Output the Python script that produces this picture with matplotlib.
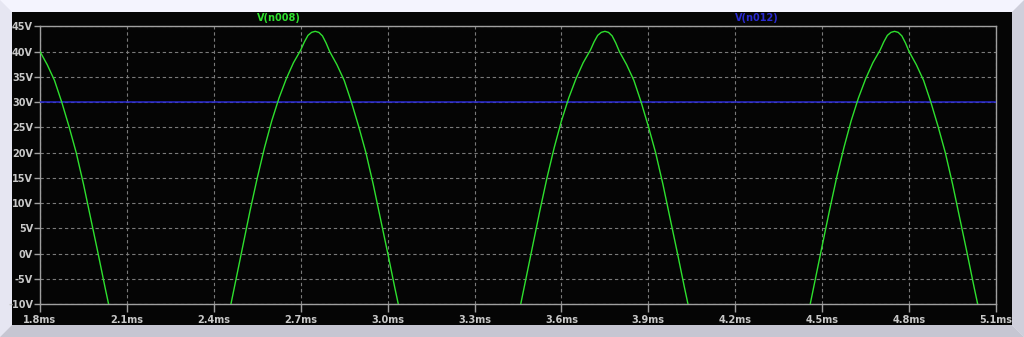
import matplotlib
matplotlib.use("Agg")
import matplotlib.pyplot as plt
from matplotlib.patches import Polygon, Rectangle

# trace V(n008), time in ms, volts
t_n008 = [1.800, 1.825, 1.850, 1.875, 1.900, 1.925, 1.950, 1.975, 2.000, 2.025, 2.050,
          2.100, 2.150, 2.200, 2.250, 2.300, 2.350, 2.400,
          2.450, 2.475, 2.500, 2.525, 2.550, 2.575, 2.600, 2.625, 2.650, 2.675, 2.700, 2.7125,
          2.725, 2.7375, 2.750, 2.7625, 2.775, 2.7875, 2.800, 2.825, 2.850, 2.875, 2.900,
          2.925, 2.950, 2.975, 3.000, 3.025,
          3.050, 3.100, 3.150, 3.200, 3.250, 3.300, 3.350, 3.400,
          3.450, 3.475, 3.500, 3.525, 3.550, 3.575, 3.600, 3.625, 3.650, 3.675, 3.700, 3.7125,
          3.725, 3.7375, 3.750, 3.7625, 3.775, 3.7875, 3.800, 3.825, 3.850, 3.875, 3.900,
          3.925, 3.950, 3.975, 4.000, 4.025,
          4.050, 4.100, 4.150, 4.200, 4.250, 4.300, 4.350, 4.400,
          4.450, 4.475, 4.500, 4.525, 4.550, 4.575, 4.600, 4.625, 4.650, 4.675, 4.700, 4.7125,
          4.725, 4.7375, 4.750, 4.7625, 4.775, 4.7875, 4.800, 4.825, 4.850, 4.875, 4.900,
          4.925, 4.950, 4.975, 5.000, 5.025,
          5.050, 5.100]
v_n008 = [40.0, 37.4, 34.3, 30.0, 25.2, 20.0, 13.8, 7.0, 0.2, -6.8, -13.5,
          -26.0, -36.0, -42.0, -44.0, -42.0, -36.0, -26.0,
          -12.5, -5.5, 1.5, 8.5, 15.0, 21.0, 26.3, 30.8, 34.6, 37.8, 40.3, 41.9,
          43.2, 43.8, 44.0, 43.8, 43.1, 41.7, 40.0, 37.4, 34.3, 30.0, 25.2,
          20.0, 13.8, 7.0, 0.2, -6.8,
          -13.5, -26.0, -36.0, -42.0, -44.0, -42.0, -36.0, -26.0,
          -12.6, -5.6, 1.4, 8.4, 15.0, 21.0, 26.3, 30.8, 34.6, 37.8, 40.3, 41.9,
          43.2, 43.8, 44.0, 43.8, 43.1, 41.7, 40.0, 37.4, 34.3, 30.0, 25.2,
          20.0, 13.8, 7.0, 0.2, -6.8,
          -13.5, -26.0, -36.0, -42.0, -44.0, -42.0, -36.0, -26.0,
          -12.4, -5.4, 1.6, 8.5, 15.1, 21.0, 26.3, 30.8, 34.6, 37.8, 40.3, 41.9,
          43.2, 43.8, 44.0, 43.8, 43.1, 41.7, 40.0, 37.4, 34.3, 30.0, 25.2,
          20.0, 13.8, 7.0, 0.2, -6.8,
          -13.5, -26.0]

# trace V(n012): flat 30 V
t_n012 = [1.8, 5.1]
v_n012 = [30.0, 30.0]

x_ticks = [1.8, 2.1, 2.4, 2.7, 3.0, 3.3, 3.6, 3.9, 4.2, 4.5, 4.8, 5.1]
y_ticks = [-10, -5, 0, 5, 10, 15, 20, 25, 30, 35, 40, 45]

W, H = 1024, 337
GREEN = "#2ee02e"
BLUE = "#2a2ad2"
GRAY = "#a0a0a0"


def px(x, y):
    # pixel coords (top-left origin) -> figure fraction
    return (x / W, 1 - y / H)


fig = plt.figure(figsize=(W / 100, H / 100), dpi=100)
fig.patch.set_facecolor("#f4f4fe")

# bevelled frame round the black panel
bevel = [
    ([(0, 0), (1024, 0), (1012, 12), (12, 12)], "#f4f4fe"),
    ([(0, 0), (12, 12), (12, 325), (0, 337)], "#e6e6f2"),
    ([(1024, 0), (1024, 337), (1012, 325), (1012, 12)], "#cfcfdb"),
    ([(0, 337), (12, 325), (1012, 325), (1024, 337)], "#c6c6d2"),
]
for pts, col in bevel:
    fig.add_artist(Polygon([px(*p) for p in pts], closed=True, transform=fig.transFigure,
                           facecolor=col, edgecolor="none", zorder=0))
x0, y0 = px(12, 325)
x1, y1 = px(1012, 12)
fig.add_artist(Rectangle((x0, y0), x1 - x0, y1 - y0, transform=fig.transFigure,
                         facecolor="#050505", edgecolor="none", zorder=0))

left, bottom = px(40, 304.3)
right, top = px(996, 26.3)
ax = fig.add_axes([left, bottom, right - left, top - bottom])
ax.set_facecolor("#050505")

ax.plot(t_n012, v_n012, color=BLUE, lw=1.1, zorder=3)
ax.plot(t_n008, v_n008, color=GREEN, lw=1.0, zorder=4)

ax.set_xlim(1.8, 5.1)
ax.set_ylim(-10, 45)
ax.set_xticks(x_ticks)
ax.set_yticks(y_ticks)
ax.set_xticklabels(["%.1fms" % v for v in x_ticks])
ax.set_yticklabels(["%dV" % v for v in y_ticks])
ax.grid(True, color="#7a7a7a", lw=0.8, linestyle=(0, (3, 2.5)))

for s in ax.spines.values():
    s.set_color(GRAY)
    s.set_linewidth(1.0)
ax.tick_params(axis="both", colors=GRAY, labelcolor="#c8c8c8", width=1.0,
               labelsize=7)
ax.tick_params(axis="x", length=6, pad=2)
ax.tick_params(axis="y", length=4, pad=1)
for lab in ax.get_xticklabels() + ax.get_yticklabels():
    lab.set_fontweight("bold")

# trace names above the plot area
fig.text(*px(279, 18), "V(n008)", color=GREEN, fontsize=7, fontweight="bold",
         ha="center", va="center")
fig.text(*px(757, 18), "V(n012)", color=BLUE, fontsize=7, fontweight="bold",
         ha="center", va="center")

fig.savefig("out.png", dpi=100, facecolor=fig.get_facecolor())
